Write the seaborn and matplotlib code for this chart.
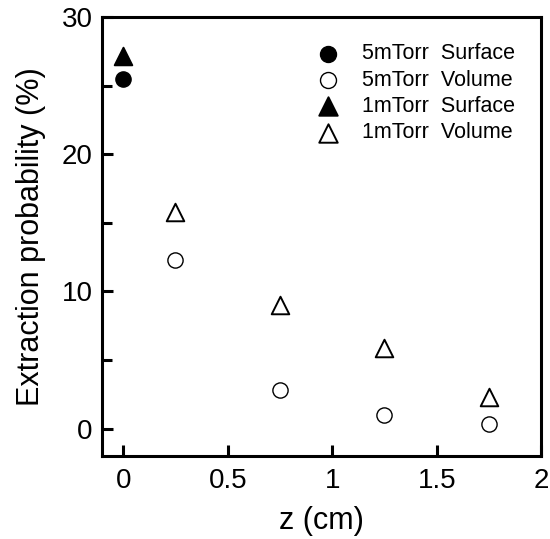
import numpy as np
import pandas as pd
import matplotlib
matplotlib.use("Agg")
import matplotlib.pyplot as plt
from matplotlib.ticker import MultipleLocator
import seaborn as sns

# datos
z_surface = [0.0]
surf_5mtorr = [25.5]
surf_1mtorr = [27.2]
z_volume = [0.25, 0.75, 1.25, 1.75]
vol_5mtorr = [12.3, 2.8, 1.0, 0.3]
vol_1mtorr = [15.8, 9.0, 5.9, 2.3]

sns.set_style("white")
plt.rcParams['font.family'] = ['Liberation Sans', 'DejaVu Sans']
plt.rcParams['text.color'] = 'black'
plt.rcParams['axes.labelcolor'] = 'black'
plt.rcParams['xtick.color'] = 'black'
plt.rcParams['ytick.color'] = 'black'

fig = plt.figure(figsize=(5.5, 5.39), dpi=100)
ax = fig.add_axes([0.186, 0.154, 0.798, 0.814])

series = [
    (z_surface, surf_5mtorr, 'o', 'black', '5mTorr  Surface', 120, 1.0),
    (z_volume, vol_5mtorr, 'o', 'white', '5mTorr  Volume', 120, 1.0),
    (z_surface, surf_1mtorr, '^', 'black', '1mTorr  Surface', 160, 1.4),
    (z_volume, vol_1mtorr, '^', 'white', '1mTorr  Volume', 160, 1.4),
]
for x, y, m, fc, lab, s, lw in series:
    df = pd.DataFrame({'z': x, 'p': y})
    sns.scatterplot(data=df, x='z', y='p', marker=m, s=s, color=fc,
                    edgecolor='black', linewidth=lw, label=lab, ax=ax, zorder=3)

ax.set_xlim(-0.1, 2)
ax.set_ylim(-2, 30)
ax.yaxis.set_major_locator(MultipleLocator(10))
ax.yaxis.set_minor_locator(MultipleLocator(5))
ax.set_xticks([0, 0.5, 1, 1.5, 2])
ax.set_xticklabels(['0', '0.5', '1', '1.5', '2'])

ax.tick_params(axis='x', which='major', pad=9)
ax.tick_params(axis='y', which='major', pad=7)
ax.tick_params(axis='both', which='major', direction='in', length=8, width=2.2,
               labelsize=20, top=False, right=False, bottom=True, left=True)
ax.tick_params(axis='y', which='minor', direction='in', length=7, width=2.2, left=True)
for sp in ax.spines.values():
    sp.set_linewidth(2.2)
    sp.set_color('black')

ax.set_xlabel('z (cm)', fontsize=22, labelpad=8)
ax.set_ylabel('Extraction probability (%)', fontsize=22, labelpad=11)

leg = ax.legend(loc='upper right', bbox_to_anchor=(0.985, 0.985), frameon=False,
                fontsize=15.5, markerscale=1.05, handletextpad=1.0, labelspacing=0.25,
                handlelength=1.2)

fig.savefig('out.png', dpi=100)
